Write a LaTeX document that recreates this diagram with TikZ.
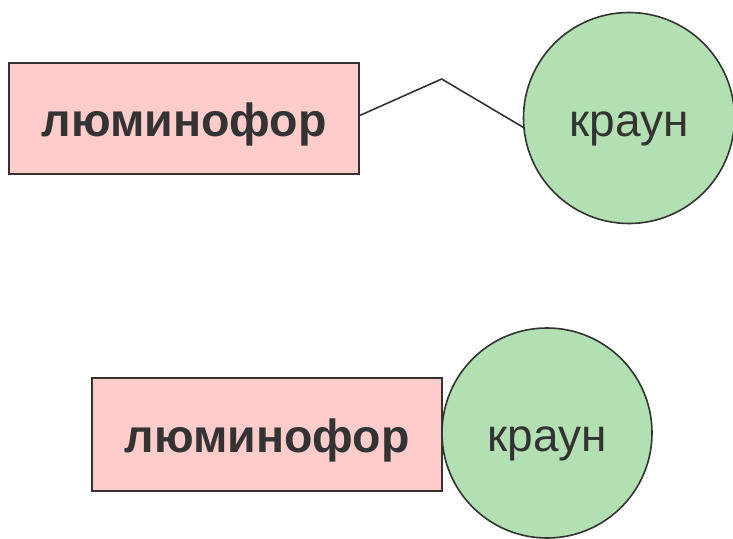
\documentclass[tikz,border=0pt]{standalone}
\usepackage{fontspec}
\setmainfont{Liberation Sans}
\definecolor{rectfill}{HTML}{FFCCCC}
\definecolor{circfill}{HTML}{B3E0B3}
\definecolor{edge}{HTML}{333333}
\begin{document}
\begin{tikzpicture}[x=1pt,y=-1pt,
  boxnode/.style={draw=edge, fill=rectfill, line width=1.8pt, rectangle, inner sep=0pt,
    minimum width=350pt, minimum height=111pt, text=edge,
    font=\fontsize{46.5}{52}\selectfont\bfseries, text height=35pt, text depth=0pt},
  roundnode/.style={draw=edge, fill=circfill, line width=1.6pt, circle, inner sep=0pt,
    minimum size=211pt, text=edge,
    font=\fontsize{46}{52}\selectfont, text height=37pt, text depth=0pt},
  link/.style={draw=edge, line width=1.6pt}]
\useasboundingbox (0,0) rectangle (733,538);
\node[boxnode] (t1) at (184,118.5) {люминофор};
\node[roundnode] (c1) at (629,118) {краун};
\coordinate (bend) at (441.7,79);
\draw[link] (t1.1.8) -- (bend) -- (c1.185.5);
\node[boxnode, minimum height=113pt] (t2) at (267,434.5) {люминофор};
\node[roundnode, minimum size=210pt] (c2) at (547,433) {краун};
\end{tikzpicture}
\end{document}
